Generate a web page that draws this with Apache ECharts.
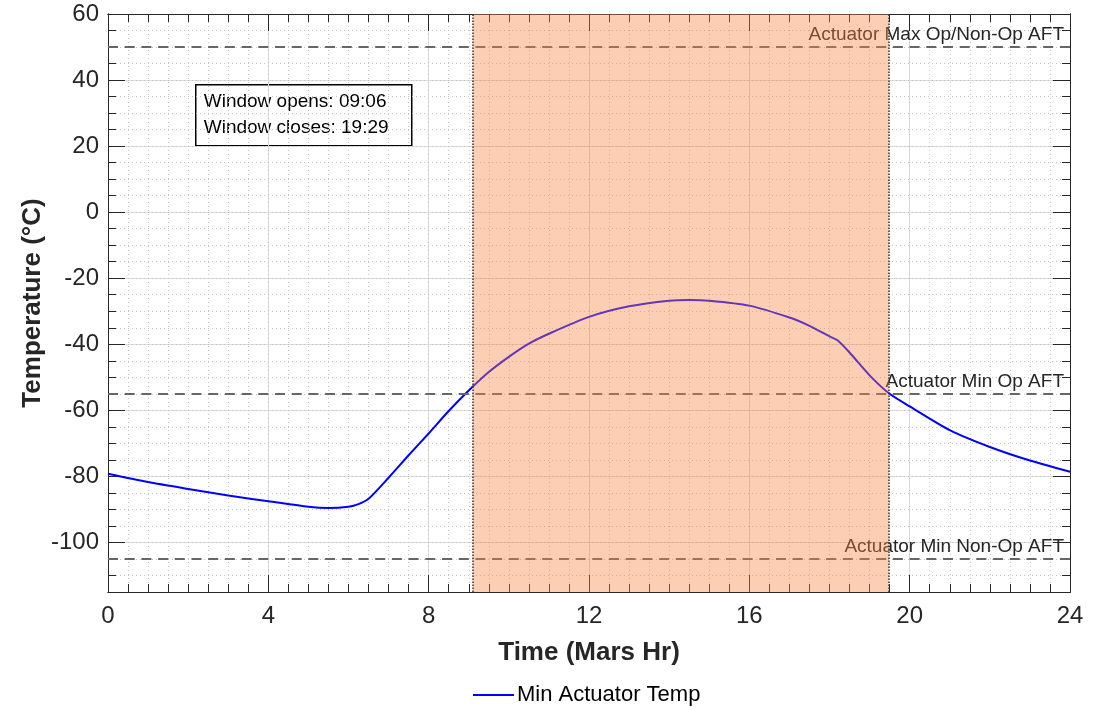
<!DOCTYPE html>
<html>
<head>
<meta charset="utf-8">
<title>Min Actuator Temp</title>
<script src="https://cdn.jsdelivr.net/npm/echarts@6/dist/echarts.min.js"></script>
<style>
  html, body { margin: 0; padding: 0; background: #fff; }
  #chart { width: 1104px; height: 708px; }
</style>
</head>
<body>
<div id="chart"></div>
<script>
// data
const hours = [0, 1, 2, 3, 4, 5, 5.5, 6, 6.25, 6.5, 7, 7.5, 8, 8.5, 9, 9.5, 10, 10.5, 11, 12, 13, 14, 14.5, 15, 16, 17, 17.5, 18, 18.2, 18.5, 19, 19.5, 20, 21, 22, 23, 24]
const temps = [-79.2, -81.7, -83.8, -85.8, -87.5, -89.2, -89.6, -89.2, -88.4, -86.8, -80.4, -73.6, -67, -60.2, -54, -48.4, -43.8, -39.8, -36.8, -31.7, -28.5, -26.8, -26.6, -26.8, -28.3, -31.9, -34.4, -37.6, -38.8, -42.5, -49.4, -55, -58.8, -66, -71.1, -75.2, -78.6]

const refNames = ['Actuator Max Op/Non-Op AFT', 'Actuator Min Op AFT', 'Actuator Min Non-Op AFT']
const refValues = [50, -55, -105]

const windowOpen = 9 + 6 / 60
const windowClose = 19 + 29 / 60
const windowText = ['Window opens: 09:06', 'Window closes: 19:29']

const xRange = [0, 24]
const yRange = [-115, 60]

const font = '"Liberation Sans", Arial, Helvetica, sans-serif'
const ink = '#262626'

const chart = echarts.init(document.getElementById('chart'))

function xAxisDef(pos, interval, tickLen, extra) {
  return Object.assign({
    type: 'value',
    position: pos,
    min: xRange[0],
    max: xRange[1],
    interval: interval,
    axisLine: { show: true, onZero: false, lineStyle: { color: ink, width: 1 } },
    axisTick: { show: true, inside: true, length: tickLen, lineStyle: { color: ink, width: 1 } },
    axisLabel: { show: false },
    splitLine: { show: false },
  }, extra || {})
}

function yAxisDef(pos, tickLen, extra) {
  return Object.assign({
    type: 'value',
    position: pos,
    min: yRange[0],
    max: yRange[1],
    axisLine: { show: true, onZero: false, lineStyle: { color: ink, width: 1 } },
    axisTick: { show: true, inside: true, length: tickLen, lineStyle: { color: ink, width: 1 } },
    axisLabel: { show: false },
    splitLine: { show: false },
  }, extra || {})
}

chart.setOption({
  animation: false,
  textStyle: { fontFamily: font },
  grid: { left: 108, right: 34, top: 14, bottom: 116 },
  legend: {
    data: [{ name: 'Min Actuator Temp', icon: 'rect' }],
    left: 468,
    top: 679,
    itemWidth: 41,
    itemHeight: 2,
    itemGap: 10,
    itemStyle: { color: '#0000ff' },
    textStyle: { fontSize: 22, color: '#000', fontFamily: font, padding: [0, 0, 0, -2] },
  },
  xAxis: [
    xAxisDef('bottom', 4, 17, {
      name: 'Time (Mars Hr)',
      nameLocation: 'middle',
      nameGap: 48,
      nameMoveOverlap: false,
      nameTextStyle: { fontSize: 26, fontWeight: 'bold', color: ink, fontFamily: font },
      axisLabel: { show: true, fontSize: 24, color: ink, margin: 12, fontFamily: font },
      splitLine: { show: true, lineStyle: { color: '#dcdcdc', width: 1 } },
    }),
    xAxisDef('bottom', 0.5, 8, {
      splitLine: { show: true, lineStyle: { color: '#c4c4c4', width: 1, type: [1, 3] } },
    }),
    xAxisDef('top', 4, 17),
    xAxisDef('top', 0.5, 8),
  ],
  yAxis: [
    yAxisDef('left', 17, {
      splitNumber: 8,
      name: 'Temperature (°C)',
      nameLocation: 'middle',
      nameGap: 62,
      nameMoveOverlap: false,
      nameTextStyle: { fontSize: 26, fontWeight: 'bold', color: ink, fontFamily: font },
      axisLabel: { show: true, showMinLabel: false, fontSize: 24, color: ink, margin: 9, fontFamily: font },
      splitLine: { show: true, lineStyle: { color: '#dcdcdc', width: 1 } },
    }),
    yAxisDef('left', 8, {
      interval: 5,
      splitLine: { show: true, lineStyle: { color: '#c4c4c4', width: 1, type: [1, 3] } },
    }),
    yAxisDef('right', 17, { splitNumber: 8 }),
    yAxisDef('right', 8, { interval: 5 }),
  ],
  graphic: [
    {
      type: 'group',
      left: 195,
      top: 84,
      z: 100,
      children: [
        { type: 'rect', shape: { x: 0, y: 0, width: 216, height: 61 }, style: { fill: '#fff', stroke: '#000', lineWidth: 1.5 } },
        { type: 'text', x: 8, y: 17.5, style: { text: windowText[0], font: '19px ' + font, fill: '#000', verticalAlign: 'middle' } },
        { type: 'text', x: 8, y: 43, style: { text: windowText[1], font: '19px ' + font, fill: '#000', verticalAlign: 'middle' } },
      ],
    },
  ],
  series: [
    {
      name: 'Min Actuator Temp',
      type: 'line',
      xAxisIndex: 0,
      yAxisIndex: 0,
      data: hours.map((h, i) => [h, temps[i]]),
      symbol: 'none',
      smooth: 0.25,
      z: 3,
      color: '#0000ff',
      lineStyle: { color: '#0000ff', width: 2 },
      markLine: {
        silent: true,
        symbol: 'none',
        z: 5,
        lineStyle: { color: '#666', width: 2, type: [10, 6.7] },
        label: {
          show: true,
          position: 'insideEndTop',
          distance: [6, 3],
          fontSize: 19,
          color: ink,
          fontFamily: font,
          formatter: (p) => p.name,
        },
        data: refValues.map((v, i) => ({ name: refNames[i], yAxis: v })),
      },
    },
    {
      name: 'window',
      type: 'line',
      xAxisIndex: 0,
      yAxisIndex: 0,
      data: [],
      symbol: 'none',
      markArea: {
        silent: true,
        z: 10,
        itemStyle: { color: 'rgba(248,135,70,0.4)' },
        data: [[{ xAxis: windowOpen }, { xAxis: windowClose }]],
      },
      markLine: {
        silent: true,
        symbol: 'none',
        z: 11,
        label: { show: false },
        lineStyle: { color: '#333', width: 1.5, type: [1.5, 1.5] },
        data: [{ xAxis: windowOpen }, { xAxis: windowClose }],
      },
    },
  ],
})
</script>
</body>
</html>
